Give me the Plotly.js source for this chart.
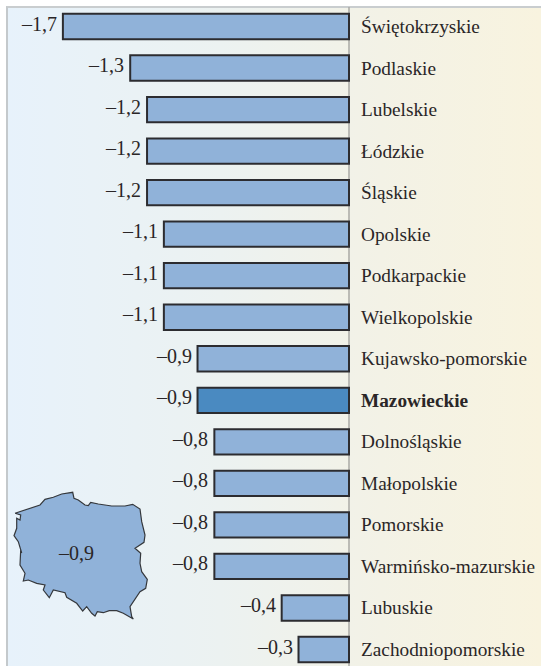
<!DOCTYPE html>
<html><head><meta charset="utf-8">
<script src="https://cdn.plot.ly/plotly-3.0.0.min.js"></script>
<style>html,body{margin:0;padding:0;background:#fff}
#c{width:541px;height:666px;position:relative}
#bg{position:absolute;left:6px;top:6px;width:535px;height:660px;box-sizing:border-box;border-left:2px solid #c4c9cc;border-top:2px solid #c9cdcf;
background:linear-gradient(90deg,#e7f2fb 0%,#ecf2f1 40%,#f3f2e6 70%,#f8f3df 100%)}
#p{position:absolute;left:0;top:0}
</style></head><body><div id="c"><div id="bg"></div><div id="p"></div></div>
<script>
const regions=["Świętokrzyskie","Podlaskie","Lubelskie","Łódzkie","Śląskie","Opolskie","Podkarpackie","Wielkopolskie","Kujawsko-pomorskie","Mazowieckie","Dolnośląskie","Małopolskie","Pomorskie","Warmińsko-mazurskie","Lubuskie","Zachodniopomorskie"];
const values=[-1.7,-1.3,-1.2,-1.2,-1.2,-1.1,-1.1,-1.1,-0.9,-0.9,-0.8,-0.8,-0.8,-0.8,-0.4,-0.3];
const highlight="Mazowieckie";
const national="–0,9";
const mapX=[15,21.7,30,40,45,53.3,61.7,72.7,74,78.3,85,88.3,90.7,98.3,111.7,125,132.7,140,141.7,145,144,138.3,135,140.7,140,141.7,147.3,145.7,140,130,131.7,133.3,123.3,116.7,109.3,103.3,97.3,95,91.7,86.7,82.7,76.7,66.7,65,53.3,49.3,43.3,45,36.7,28.3,23.3,25,20,20.7,21.7,18.3,14,16.7,16.7,20,20.7,15];
const mapY=[513.3,511,508.3,505,499.3,497.3,494,492.3,498.3,500,505,505.7,502.3,504,506,506,504.3,509,521.7,535,542.3,545.7,548.3,553.3,563.3,571.7,579.3,588.3,591.7,606.7,616.7,619,613.3,610.7,610.7,612.7,611.7,616,613.3,606.7,611,603.3,597.3,592.7,590,597.7,590,585,583.3,580,581,573.3,565,550,553,541.7,535.7,528.3,518.3,520,515,513.3];
const fmt=v=>"–"+Math.abs(v).toFixed(1).replace(".",",");
const font="Liberation Serif";
const ink="#2a2627";
const traces=[
{type:"bar",orientation:"h",x:values,y:regions,width:0.61,
 marker:{color:regions.map(r=>r===highlight?"#4a8ac1":"#90b2d9"),line:{color:"#2c2c30",width:2}},
 hoverinfo:"x+y",cliponaxis:false},
{type:"scatter",mode:"lines",x:mapX,y:mapY,xaxis:"x2",yaxis:"y2",fill:"toself",fillcolor:"#90b2d9",
 line:{color:"#35383c",width:1.2},hoverinfo:"skip"}
];
const ann=[];
regions.forEach((r,i)=>{
 ann.push({x:values[i],y:r,xref:"x",yref:"y",text:fmt(values[i]),showarrow:false,xanchor:"right",xshift:-4,yshift:3,font:{family:font,size:20,color:ink}});
 ann.push({x:0,y:r,xref:"x",yref:"y",text:r===highlight?"<b>"+r+"</b>":r,showarrow:false,xanchor:"left",xshift:10,yshift:0,font:{family:font,size:19.3,color:ink}});
});
ann.push({x:76,y:553,xref:"x2",yref:"y2",text:national,showarrow:false,font:{family:font,size:20,color:ink}});
const pxPerUnit=168.3, zero=349;
const layout={width:541,height:666,margin:{l:0,r:0,t:0,b:0},paper_bgcolor:"rgba(0,0,0,0)",plot_bgcolor:"rgba(0,0,0,0)",showlegend:false,
 xaxis:{range:[-zero/pxPerUnit,(541-zero)/pxPerUnit],domain:[0,1],visible:false,fixedrange:true},
 yaxis:{type:"category",categoryorder:"array",categoryarray:regions,range:[15+(666-649.5)/41.53,-26.5/41.53],domain:[0,1],visible:false,fixedrange:true},
 xaxis2:{range:[0,541],overlaying:"x",visible:false,fixedrange:true},
 yaxis2:{range:[666,0],overlaying:"y",visible:false,fixedrange:true},
 shapes:[{type:"line",xref:"x",yref:"paper",x0:0,x1:0,y0:0,y1:1-7/666,line:{color:"#a9a9a4",width:1.5},layer:"below"}],
 annotations:ann};
Plotly.newPlot("p",traces,layout,{displayModeBar:false,staticPlot:true});
</script></body></html>
